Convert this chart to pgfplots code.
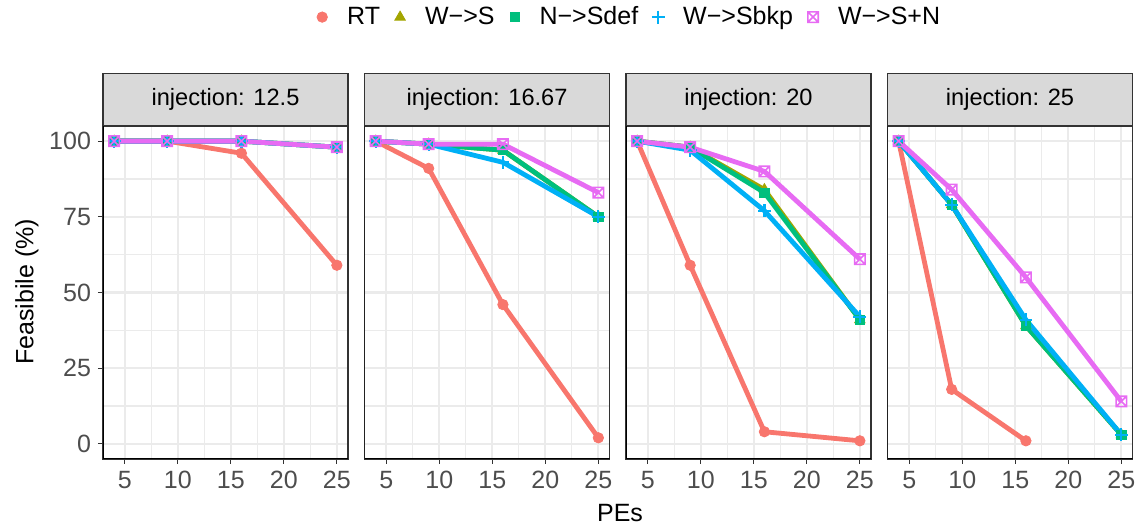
\documentclass[border=0pt]{standalone}
\usepackage{pgfplots}
\pgfplotsset{compat=1.18}
\usepackage{pgfplotstable}
\usepackage{fontspec}
\setmainfont{Liberation Sans}
\definecolor{cRT}{HTML}{F8766D}
\definecolor{cWS}{HTML}{A3A500}
\definecolor{cNS}{HTML}{00BF7D}
\definecolor{cWB}{HTML}{00B0F6}
\definecolor{cWN}{HTML}{E76BF3}
\definecolor{gridc}{HTML}{EBEBEB}
\definecolor{stripc}{HTML}{D9D9D9}
\definecolor{borderc}{HTML}{333333}
\definecolor{tickc}{HTML}{4D4D4D}

\pgfdeclareplotmark{sqx}{%
  \pgfpathrectangle{\pgfpoint{-\pgfplotmarksize}{-\pgfplotmarksize}}{\pgfpoint{2\pgfplotmarksize}{2\pgfplotmarksize}}%
  \pgfpathmoveto{\pgfpoint{-\pgfplotmarksize}{-\pgfplotmarksize}}\pgfpathlineto{\pgfpoint{\pgfplotmarksize}{\pgfplotmarksize}}%
  \pgfpathmoveto{\pgfpoint{-\pgfplotmarksize}{\pgfplotmarksize}}\pgfpathlineto{\pgfpoint{\pgfplotmarksize}{-\pgfplotmarksize}}%
  \pgfusepathqstroke}

\pgfplotstableread{
x RT WS NS WB WN
4 100 100 100 100 100
9 100 100 100 100 100
16 96 100 100 100 100
25 59 98 98 98 98
}\tabA
\pgfplotstableread{
x RT WS NS WB WN
4 100 100 100 100 100
9 91 99 99 99 99
16 46 97 97 93 99
25 2 75 75 75 83
}\tabB
\pgfplotstableread{
x RT WS NS WB WN
4 100 100 100 100 100
9 59 98 98 97 98
16 4 84 83 77 90
25 1 41 41 42 61
}\tabC
\pgfplotstableread{
x RT WS NS WB WN
4 100 100 100 100 100
9 18 79 79 79 84
16 1 39 39 41 55
25 nan 3 3 3 14
}\tabD

\pgfplotsset{
  panel/.style={
    scale only axis, width=122.5pt, height=166.5pt,
    anchor=south west,
    xmin=2.95, xmax=26.05, ymin=-5, ymax=105,
    xtick={5,10,15,20,25}, ytick={0,25,50,75,100},
    minor xtick={7.5,12.5,17.5,22.5}, minor ytick={12.5,37.5,62.5,87.5},
    grid=both,
    major grid style={gridc, line width=1.1pt},
    minor grid style={gridc, line width=0.55pt},
    tick align=outside, tick pos=left,
    major tick length=2.5pt, minor tick length=0pt,
    tick style={borderc, line width=0.55pt},
    axis line style={borderc, line width=0.55pt},
    ticklabel style={font=\fontsize{12.5}{14}\selectfont, text=tickc},
    /pgf/number format/assume math mode=true,
    every axis title shift=0pt,
    title style={at={(0.5,1)}, anchor=south, draw=borderc, fill=stripc,
      line width=0.55pt, minimum width=122.5pt, minimum height=26pt,
      inner sep=0pt, font=\fontsize{11.8}{14}\selectfont},
    unbounded coords=jump,
    legend image code/.code={%
      \path[draw=none, fill=none] (-10pt,0pt) -- (12.5pt,0pt);
      \draw[mark repeat=1,#1,only marks] plot coordinates {(0pt,0pt)};},
  },
  noy/.style={yticklabels={}, ytick style={draw=none}},
  sRT/.style={cRT, line width=2.4pt, mark=*, mark size=2.6pt, mark options={line width=0.4pt, fill=cRT, draw=cRT}},
  sWS/.style={cWS, line width=2.4pt, mark=triangle*, mark size=3pt, mark options={line width=0.4pt, fill=cWS, draw=cWS}},
  sNS/.style={cNS, line width=2.4pt, mark=square*, mark size=2.3pt, mark options={line width=0.4pt, fill=cNS, draw=cNS}},
  sWB/.style={cWB, line width=2.4pt, mark=+, mark size=3.2pt, mark options={line width=1.1pt, draw=cWB}},
  sWN/.style={cWN, line width=2.4pt, mark=sqx, mark size=2.6pt, mark options={line width=0.8pt, draw=cWN}},
}

\newcommand{\panelplots}[1]{%
  \addplot[sRT] table[x=x,y=RT] {#1};
  \addplot[sWS] table[x=x,y=WS] {#1};
  \addplot[sNS] table[x=x,y=NS] {#1};
  \addplot[sWB] table[x=x,y=WB] {#1};
  \addplot[sWN] table[x=x,y=WN] {#1};
  \draw[black, line width=0.9pt] (rel axis cs:0,1) |- (rel axis cs:1,0);
}

\begin{document}
\begin{tikzpicture}
\useasboundingbox (0,0) rectangle (571pt,264.5pt);
\begin{axis}[panel, at={(51.5pt,35pt)}, title={injection: 12.5},
  legend style={at={(2.115,1.327)}, anchor=center, legend columns=5, draw=none, fill=none,
    font=\fontsize{12.5}{14}\selectfont,
    nodes={inner xsep=0pt},
    /tikz/every even column/.append style={column sep=0pt},
    /tikz/every odd column/.append style={column sep=0pt}},
  legend cell align=left]
\panelplots{\tabA}
\legend{RT, W−>S, N−>Sdef, W−>Sbkp, W−>S+N}
\end{axis}
\begin{axis}[panel, noy, at={(182.25pt,35pt)}, title={injection: 16.67}]
\panelplots{\tabB}
\end{axis}
\begin{axis}[panel, noy, at={(313pt,35pt)}, title={injection: 20}]
\panelplots{\tabC}
\end{axis}
\begin{axis}[panel, noy, at={(443.75pt,35pt)}, title={injection: 25}]
\panelplots{\tabD}
\end{axis}
\node[font=\fontsize{12.5}{14}\selectfont] at (310pt,8pt) {PEs};
\node[font=\fontsize{12.5}{14}\selectfont, rotate=90] at (13.5pt,118.5pt) {Feasibile (\%)};
\end{tikzpicture}
\end{document}
